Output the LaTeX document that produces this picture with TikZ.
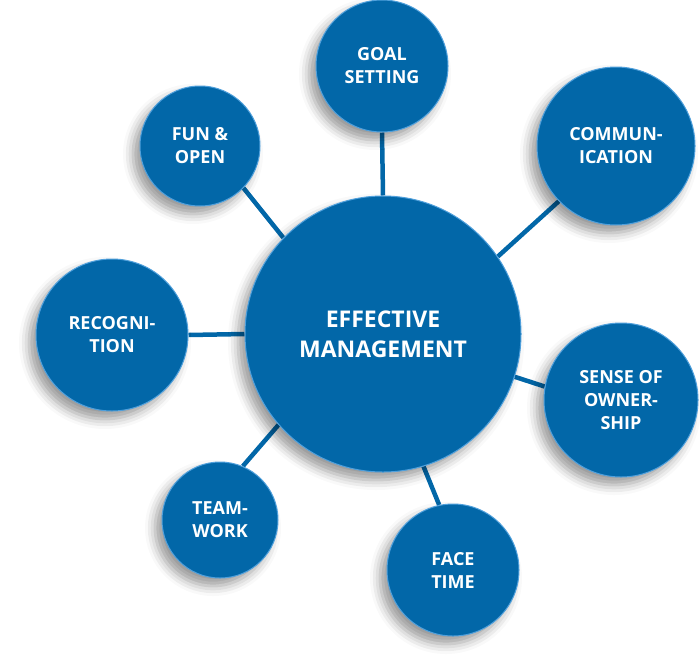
\documentclass[tikz,border=0pt]{standalone}
\usepackage{fontspec}
\setmainfont{Open Sans}
\usetikzlibrary{shadows.blur}
\definecolor{mblue}{RGB}{2,103,168}
\definecolor{rim}{RGB}{80,160,220}
\pgfdeclarelayer{bg}
\pgfsetlayers{bg,main}
\begin{document}
\begin{tikzpicture}[x=1pt,y=-1pt,
 bub/.style={circle, fill=mblue, draw=rim, line width=1pt, inner sep=0pt, text=white, align=center,
   font=\bfseries\fontsize{18}{23}\selectfont,
   blur shadow={shadow xshift=-7pt, shadow yshift=-8pt, shadow blur radius=10pt, shadow opacity=40}},
 link/.style={draw=mblue, line width=4.5pt}]
\useasboundingbox (0,0) rectangle (700,664);
\node[bub, minimum size=276pt, font=\bfseries\fontsize{23}{30}\selectfont] (c) at (383,334) {EFFECTIVE\\MANAGEMENT};
\node[bub, minimum size=132pt] (goal) at (382,66) {GOAL\\SETTING};
\node[bub, minimum size=120pt] (fun) at (200,146) {FUN \&\\OPEN};
\node[bub, minimum size=158pt] (comm) at (616,146) {COMMUN-\\ICATION};
\node[bub, minimum size=152pt] (rec) at (112,335) {RECOGNI-\\TION};
\node[bub, minimum size=154pt] (sense) at (621,400) {SENSE OF\\OWNER-\\SHIP};
\node[bub, minimum size=116pt] (team) at (220,520) {TEAM-\\WORK};
\node[bub, minimum size=132pt] (face) at (453,570) {FACE\\TIME};
\begin{pgfonlayer}{bg}
\draw[link] (goal.south) -- (c.north);
\draw[link] (fun.-44) -- (c.136);
\draw[link] (comm.224) -- (c.34);
\draw[link] (rec.east) -- (c.west);
\draw[link] (sense.170) -- (c.-18);
\draw[link] (team.67) -- (c.221);
\draw[link] (face.102) -- (c.287);
\end{pgfonlayer}
\end{tikzpicture}
\end{document}
